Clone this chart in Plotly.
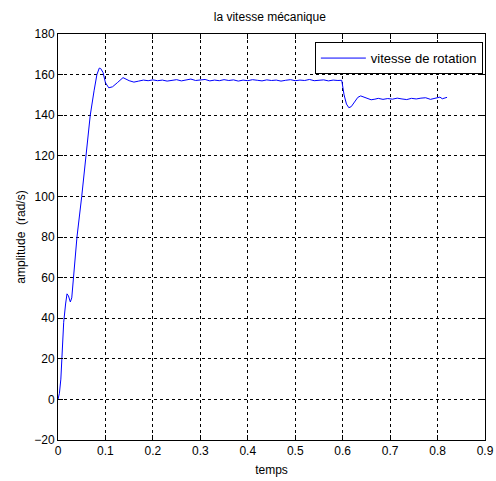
import plotly.graph_objects as go

# time (s)
temps = [0.000, 0.003, 0.006, 0.009, 0.012, 0.016, 0.019, 0.022, 0.026, 0.029,
         0.033, 0.040, 0.050, 0.059, 0.068, 0.076, 0.082, 0.087, 0.090, 0.095,
         0.100, 0.107, 0.115, 0.125, 0.137, 0.150, 0.16, 0.17, 0.18, 0.19,
         0.20, 0.21, 0.22, 0.23, 0.24, 0.25, 0.26, 0.27, 0.28, 0.29,
         0.30, 0.31, 0.32, 0.33, 0.34, 0.35, 0.36, 0.37, 0.38, 0.39,
         0.40, 0.41, 0.42, 0.43, 0.44, 0.45, 0.46, 0.47, 0.48, 0.49,
         0.50, 0.51, 0.52, 0.53, 0.54, 0.55, 0.56, 0.57, 0.58, 0.59,
         0.598, 0.603, 0.608, 0.613, 0.618, 0.625, 0.632, 0.638, 0.645, 0.652,
         0.660, 0.668, 0.675, 0.685, 0.695, 0.705, 0.715, 0.725, 0.735, 0.745,
         0.755, 0.765, 0.775, 0.785, 0.795, 0.805, 0.810, 0.815, 0.820]

# speed (rad/s)
vitesse = [0.0, 3.0, 10.0, 22.0, 38.0, 47.0, 52.0, 51.0, 48.0, 50.0,
           60.0, 80.0, 100.0, 120.0, 140.0, 152.0, 160.0, 163.2, 163.0, 161.0,
           156.0, 153.5, 154.0, 156.0, 158.5, 157.0, 156.3, 156.8, 157.3, 157.0,
           157.4, 157.0, 157.3, 156.8, 157.2, 157.5, 156.9, 157.3, 157.8, 157.1,
           157.2, 157.6, 156.9, 157.3, 157.0, 157.5, 157.1, 157.4, 156.8, 157.3,
           157.0, 157.5, 157.2, 156.9, 157.4, 157.1, 157.3, 156.8, 157.2, 157.5,
           157.0, 157.3, 157.1, 157.6, 157.0, 157.2, 157.4, 156.9, 157.3, 157.1,
           157.2, 150.0, 145.5, 143.7, 144.2, 146.5, 148.8, 149.5, 149.0, 148.3,
           147.6, 147.9, 148.3, 147.8, 148.2, 147.9, 148.4, 148.0, 147.7, 148.3,
           148.0, 148.4, 148.6, 147.8, 148.5, 148.9, 148.1, 148.5, 148.8]

x_ticks = [0, 0.1, 0.2, 0.3, 0.4, 0.5, 0.6, 0.7, 0.8, 0.9]
x_labels = ["0", "0.1", "0.2", "0.3", "0.4", "0.5", "0.6", "0.7", "0.8", "0.9"]
y_ticks = [-20, 0, 20, 40, 60, 80, 100, 120, 140, 160, 180]

font = "Liberation Sans, Arial, sans-serif"

fig = go.Figure()
fig.add_trace(go.Scatter(x=temps, y=vitesse, mode="lines", name="vitesse de rotation",
                         line=dict(color="#0000ff", width=1)))

axis_common = dict(showline=True, linecolor="black", linewidth=1, mirror="ticks",
                   ticks="inside", ticklen=5, tickcolor="black", automargin=False,
                   showgrid=True, gridcolor="black", gridwidth=1, griddash="3px,3px",
                   zeroline=False, tickfont=dict(family=font, size=12, color="black"))

fig.update_xaxes(range=[0, 0.9], tickvals=x_ticks, ticktext=x_labels,
                 ticklabeloverflow="allow",
                 title=dict(text="temps", font=dict(family=font, size=12, color="black"), standoff=8),
                 **axis_common)
fig.update_yaxes(range=[-20, 180], tickvals=y_ticks,
                 title=dict(text="amplitude  (rad/s)", font=dict(family=font, size=12, color="black"), standoff=6),
                 **axis_common)

fig.update_layout(
    width=496, height=481,
    margin=dict(l=58, r=11, t=34, b=41),
    paper_bgcolor="white", plot_bgcolor="white",
    title=dict(text="la vitesse mécanique", x=0.544, xanchor="center", y=0.965, yanchor="middle",
               font=dict(family=font, size=12, color="black")),
    showlegend=True,
    legend=dict(x=0.995, xanchor="right", y=0.98, yanchor="top",
                bgcolor="white", bordercolor="black", borderwidth=1,
                itemwidth=45,
                font=dict(family=font, size=13, color="black")),
)

fig.write_html("out.html",
               config={"displayModeBar": False},
               post_script="document.body.style.margin='0';document.body.style.overflow='hidden';")
